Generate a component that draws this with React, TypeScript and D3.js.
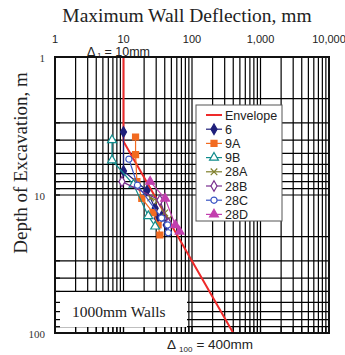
import React from "react";
import * as d3 from "d3";

const W = 345, H = 355;
const xTickLabels = ["1", "10", "100", "1,000", "10,000"];
const xTickValues = [1, 10, 100, 1000, 10000];
const yTickLabels = ["1", "10", "100"];
const yTickValues = [1, 10, 100];

const envelopeDefl = [10, 10, 400];
const envelopeDepth = [1, 4.1, 100];

const s6Defl = [10, 10, 22, 29, 31, 36, 42];
const s6Depth = [3.5, 6.7, 9.3, 12.5, 14.7, 14.3, 16.5];
const s9ADefl = [15, 15, 15.7, 18.5, 27, 32, 34];
const s9ADepth = [3.8, 5.1, 8.0, 10.6, 13.4, 16.5, 19.5];
const s9BDefl = [6.8, 6.8, 14, 23, 29];
const s9BDepth = [4.0, 5.6, 8.4, 14.2, 16.9];
const s28ADefl = [25, 32, 40, 45];
const s28ADepth = [10.5, 11, 13.5, 15];
const s28BDefl = [9.5, 34, 45];
const s28BDepth = [8.0, 10.9, 16];
const s28CDefl = [12, 16, 36, 44, 45];
const s28CDepth = [5.5, 8.5, 14.7, 16.5, 18.8];
const s28DDefl = [24.5, 40.5, 57, 66];
const s28DDepth = [8.0, 10.6, 16.5, 18.4];

const seriesNames = ["6", "9A", "9B", "28A", "28B", "28C", "28D"];
const seriesDefl = [s6Defl, s9ADefl, s9BDefl, s28ADefl, s28BDefl, s28CDefl, s28DDefl];
const seriesDepth = [s6Depth, s9ADepth, s9BDepth, s28ADepth, s28BDepth, s28CDepth, s28DDepth];
const seriesColors = ["#1f1f7a", "#f26b21", "#118c8c", "#7f7f2a", "#7a2f8f", "#3a55c4", "#c23fae"];
const seriesSymbols = [d3.symbolDiamond, d3.symbolSquare, d3.symbolTriangle, d3.symbolX, d3.symbolDiamond, d3.symbolCircle, d3.symbolTriangle];
const seriesFilled = [true, true, false, false, false, false, true];
const seriesSizes = [32, 36, 34, 30, 32, 30, 34];

export default function App() {
  const x0 = 55, x1 = 329, y0 = 57, y1 = 333;
  const x = d3.scaleLog().domain([1, 10000]).range([x0, x1]);
  const y = d3.scaleLog().domain([1, 100]).range([y0, y1]);

  const xGrid: number[] = [];
  for (let d = 1; d < 10000; d *= 10) for (let m = 1; m <= 9; m++) xGrid.push(d * m);
  xGrid.push(10000);
  const yGrid: number[] = [];
  for (let d = 1; d < 100; d *= 10) for (let m = 1; m <= 9; m++) yGrid.push(d * m);
  yGrid.push(100);

  const line = d3.line<[number, number]>().x((p) => x(p[0])).y((p) => y(p[1]));
  const serif = "'Liberation Serif', 'DejaVu Serif', serif";
  const sans = "'Liberation Sans', Arial, sans-serif";

  const marker = (i: number, cx: number, cy: number, key: string) => {
    const path = d3.symbol().type(seriesSymbols[i]).size(seriesSizes[i])();
    return (
      <path
        key={key}
        d={path || ""}
        transform={`translate(${cx},${cy})`}
        fill={seriesFilled[i] ? seriesColors[i] : "#fff"}
        stroke={seriesColors[i]}
        strokeWidth={1.2}
      />
    );
  };

  const envPts = envelopeDefl.map((d, i) => [d, envelopeDepth[i]] as [number, number]);

  const legX = 196, legY = 105, legW = 86, legH = 116;
  const legRows = ["Envelope", ...seriesNames];

  return (
    <svg width={W} height={H} style={{ position: "absolute", left: 0, top: 0 }}>
      <rect width={W} height={H} fill="#fff" />
      <text x={187} y={22} textAnchor="middle" fontFamily={serif} fontSize={19.5} fill="#222">
        Maximum Wall Deflection, mm
      </text>
      <text
        transform={`translate(27,163) rotate(-90)`}
        textAnchor="middle"
        fontFamily={serif}
        fontSize={19}
        fill="#222"
      >
        Depth of Excavation, m
      </text>
      {xTickValues.map((v, i) => (
        <text key={"xt" + i} x={x(v)} y={43} textAnchor="middle" fontFamily={sans} fontSize={11} fill="#222">
          {xTickLabels[i]}
        </text>
      ))}
      {yTickValues.map((v, i) => (
        <text key={"yt" + i} x={45} y={y(v) + 5} textAnchor="end" fontFamily={serif} fontSize={11} fill="#333">
          {yTickLabels[i]}
        </text>
      ))}
      {/* grid */}
      {xGrid.map((v, i) => (
        <line key={"xg" + i} x1={x(v)} x2={x(v)} y1={y0} y2={y1} stroke="#000" strokeWidth={1.2} />
      ))}
      {yGrid.map((v, i) => (
        <line key={"yg" + i} x1={x0} x2={x1} y1={y(v)} y2={y(v)} stroke="#000" strokeWidth={1.2} />
      ))}
      {/* walls label box */}
      <rect x={x0} y={292} width={132} height={35} fill="#fff" />
      <text x={72} y={317} fontFamily={serif} fontSize={15.5} fill="#222">
        1000mm Walls
      </text>
      {/* inner ticks on left and bottom */}
      {yGrid.map((v, i) => (
        <line key={"ytk" + i} x1={x0} x2={x0 + 5} y1={y(v)} y2={y(v)} stroke="#000" strokeWidth={1.2} />
      ))}
      {xGrid.map((v, i) => (
        <line key={"xtk" + i} x1={x(v)} x2={x(v)} y1={y1 - 6} y2={y1} stroke="#000" strokeWidth={1.2} />
      ))}
      {/* envelope */}
      <path d={line(envPts) || ""} fill="none" stroke="#ee2a2a" strokeWidth={2} />
      {/* series */}
      {seriesNames.map((n, i) => {
        const pts = seriesDefl[i].map((d, j) => [d, seriesDepth[i][j]] as [number, number]);
        return (
          <g key={"s" + n}>
            <path d={line(pts) || ""} fill="none" stroke={seriesColors[i]} strokeWidth={1.2} />
            {pts.map((p, j) => marker(i, x(p[0]), y(p[1]), n + "m" + j))}
          </g>
        );
      })}
      {/* border */}
      <rect x={x0} y={y0} width={x1 - x0} height={y1 - y0} fill="none" stroke="#111" strokeWidth={2} />
      {/* annotations */}
      <text x={87} y={56} fontFamily={sans} fontSize={12.5} fill="#222">
        Δ<tspan dx={2} dy={2} fontSize={7.5}>1</tspan>
        <tspan dx={3} dy={-2}>= 10mm</tspan>
      </text>
      <text x={167} y={349} fontFamily={sans} fontSize={13.5} fill="#222">
        Δ<tspan dx={3} dy={3} fontSize={8}>100</tspan>
        <tspan dx={4} dy={-3}>= 400mm</tspan>
      </text>
      {/* legend */}
      <rect x={legX} y={legY} width={legW} height={legH} fill="#fff" stroke="#555" strokeWidth={1} />
      {legRows.map((name, i) => {
        const ry = legY + 10 + i * 14.2;
        const color = i === 0 ? "#ee2a2a" : seriesColors[i - 1];
        return (
          <g key={"leg" + i}>
            <line x1={legX + 10} x2={legX + 26} y1={ry} y2={ry} stroke={color} strokeWidth={i === 0 ? 2 : 1.2} />
            {i > 0 && marker(i - 1, legX + 18, ry, "lm" + i)}
            <text x={legX + 29} y={ry + 4.5} fontFamily={sans} fontSize={12.5} fill="#222">
              {name}
            </text>
          </g>
        );
      })}
    </svg>
  );
}
